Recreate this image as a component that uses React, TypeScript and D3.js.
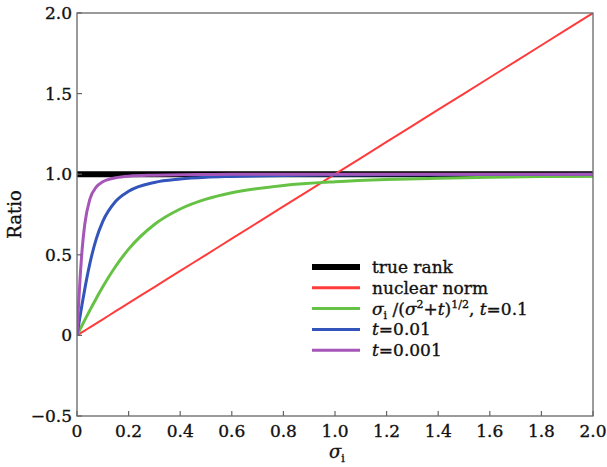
import React from "react";
import * as d3 from "d3";

// sigma sample positions (x axis)
const sigma = [0, 0.005, 0.01, 0.02, 0.03, 0.05, 0.075, 0.1, 0.15, 0.2, 0.3, 0.4, 0.5, 0.6, 0.8, 1.0, 1.2, 1.4, 1.6, 1.8, 2.0];

// ratio values
const trueRank = [1, 1, 1, 1, 1, 1, 1, 1, 1, 1, 1, 1, 1, 1, 1, 1, 1, 1, 1, 1, 1];
const nuclearNorm = [0, 0.005, 0.01, 0.02, 0.03, 0.05, 0.075, 0.1, 0.15, 0.2, 0.3, 0.4, 0.5, 0.6, 0.8, 1.0, 1.2, 1.4, 1.6, 1.8, 2.0];
const t01 = [0, 0.016, 0.032, 0.063, 0.095, 0.156, 0.231, 0.302, 0.429, 0.535, 0.688, 0.784, 0.845, 0.885, 0.93, 0.953, 0.967, 0.975, 0.981, 0.985, 0.988];
const t001 = [0, 0.05, 0.1, 0.196, 0.287, 0.447, 0.6, 0.707, 0.832, 0.894, 0.949, 0.97, 0.981, 0.986, 0.992, 0.995, 0.997, 0.997, 0.998, 0.998, 0.999];
const t0001 = [0, 0.156, 0.302, 0.535, 0.688, 0.845, 0.921, 0.953, 0.978, 0.988, 0.994, 0.997, 0.998, 0.999, 0.999, 1, 1, 1, 1, 1, 1];

const xTicks = [0, 0.2, 0.4, 0.6, 0.8, 1.0, 1.2, 1.4, 1.6, 1.8, 2.0];
const xTickLabels = ["0", "0.2", "0.4", "0.6", "0.8", "1.0", "1.2", "1.4", "1.6", "1.8", "2.0"];
const yTicks = [-0.5, 0, 0.5, 1.0, 1.5, 2.0];
const yTickLabels = ["\u22120.5", "0", "0.5", "1.0", "1.5", "2.0"];

const series = [
  { key: "true rank", values: trueRank, color: "#000000", width: 6 },
  { key: "nuclear norm", values: nuclearNorm, color: "#ff3b3b", width: 2 },
  { key: "t=0.1", values: t01, color: "#66c244", width: 3 },
  { key: "t=0.01", values: t001, color: "#3355bb", width: 3 },
  { key: "t=0.001", values: t0001, color: "#a656b8", width: 3 },
];

const W = 607;
const H = 467;
const margin = { top: 13, right: 14, bottom: 51, left: 77 };
const FONT = "'DejaVu Serif', serif";

export default function App() {
  const x = d3.scaleLinear().domain([0, 2]).range([margin.left, W - margin.right]);
  const y = d3.scaleLinear().domain([-0.5, 2]).range([H - margin.bottom, margin.top]);

  const line = (vals: number[]) =>
    d3
      .line<number>()
      .x((_, i) => x(sigma[i]))
      .y((d) => y(d))
      .curve(d3.curveMonotoneX)(vals) || "";

  const x0 = x(0);
  const x1 = x(2);
  const y0 = y(2);
  const y1 = y(-0.5);

  const legX = 312;
  const legY = 267;
  const legStep = 20.8;

  return (
    <svg width={W} height={H} style={{ position: "absolute", left: 0, top: 0, background: "#fff" }}>
      <defs>
        <clipPath id="plot">
          <rect x={x0} y={y0} width={x1 - x0} height={y1 - y0} />
        </clipPath>
      </defs>

      <g clipPath="url(#plot)" fill="none" strokeLinejoin="round">
        {series.map((s) => (
          <path key={s.key} d={line(s.values)} stroke={s.color} strokeWidth={s.width} />
        ))}
      </g>

      {/* frame */}
      <rect x={x0} y={y0} width={x1 - x0} height={y1 - y0} fill="none" stroke="#666" strokeWidth={1.3} />

      {/* ticks */}
      <g stroke="#666" strokeWidth={1.2}>
        {xTicks.map((t) => (
          <line key={"xt" + t} x1={x(t)} x2={x(t)} y1={y1} y2={y1 - 5} />
        ))}
        {yTicks.map((t) => (
          <line key={"yt" + t} x1={x0} x2={x0 + 5} y1={y(t)} y2={y(t)} />
        ))}
      </g>

      <g fontFamily={FONT} fontSize={17} fill="#111" stroke="#111" strokeWidth={0.35}>
        {xTicks.map((t, i) => (
          <text key={"xl" + t} x={x(t)} y={y1 + 21} textAnchor="middle">
            {xTickLabels[i]}
          </text>
        ))}
        {yTicks.map((t, i) => (
          <text key={"yl" + t} x={x0 - 5} y={y(t) + 6} textAnchor="end">
            {yTickLabels[i]}
          </text>
        ))}

        <text transform={`translate(21,${(y0 + y1) / 2}) rotate(-90)`} textAnchor="middle" fontSize={18}>
          Ratio
        </text>

        <text x={(x0 + x1) / 2 - 6} y={H - 9} fontStyle="italic" fontSize={18}>
          σ<tspan fontSize={11} dy={4} fontStyle="normal">i</tspan>
        </text>
      </g>

      {/* legend */}
      <g fontFamily={FONT} fontSize={17} fill="#111">
        {series.map((s, i) => (
          <line
            key={"lg" + s.key}
            x1={legX}
            x2={legX + 48}
            y1={legY + i * legStep}
            y2={legY + i * legStep}
            stroke={s.color}
            strokeWidth={s.width === 6 ? 6 : 3}
          />
        ))}
      </g>
      <g fontFamily={FONT} fontSize={17} fill="#111" stroke="#111" strokeWidth={0.35}>
        <text x={legX + 60} y={legY + 6}>true rank</text>
        <text x={legX + 60} y={legY + legStep + 6}>nuclear norm</text>
        <text x={legX + 60} y={legY + 2 * legStep + 6}>
          <tspan fontStyle="italic">σ</tspan>
          <tspan fontSize={11} dy={4}>i</tspan>
          <tspan dy={-4}> /(</tspan>
          <tspan fontStyle="italic">σ</tspan>
          <tspan fontSize={11} dy={-7}>2</tspan>
          <tspan dy={7}>+</tspan>
          <tspan fontStyle="italic">t</tspan>
          <tspan>)</tspan>
          <tspan fontSize={11} dy={-7}>1/2</tspan>
          <tspan dy={7}>, </tspan>
          <tspan fontStyle="italic">t</tspan>
          <tspan>=0.1</tspan>
        </text>
        <text x={legX + 60} y={legY + 3 * legStep + 6}>
          <tspan fontStyle="italic">t</tspan>=0.01
        </text>
        <text x={legX + 60} y={legY + 4 * legStep + 6}>
          <tspan fontStyle="italic">t</tspan>=0.001
        </text>
      </g>
    </svg>
  );
}
